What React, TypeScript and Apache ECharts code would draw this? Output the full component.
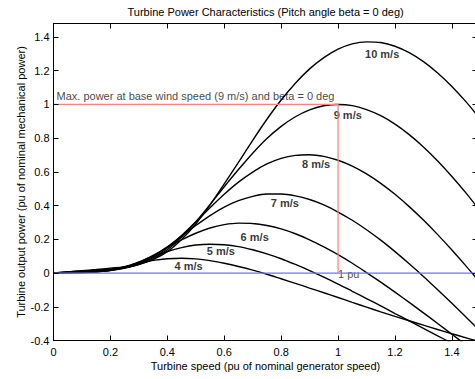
import { useEffect, useRef } from "react";
import * as echarts from "echarts";

// Turbine speed in pu of nominal generator speed
const SPEED = [
  0, 0.05, 0.1, 0.15, 0.2, 0.25, 0.3, 0.35, 0.4, 0.45, 0.5, 0.55, 0.6, 0.65, 0.7, 0.75,
  0.8, 0.85, 0.9, 0.95, 1.0, 1.05, 1.1, 1.15, 1.2, 1.25, 1.3, 1.35, 1.4, 1.45, 1.5,
];

// Turbine output power (pu of nominal mechanical power), one list per wind speed
const P_4 = [
  0, 0.001, 0.002, 0.007, 0.019, 0.038, 0.058, 0.075, 0.085, 0.088, 0.084, 0.074, 0.058, 0.039, 0.017, -0.007,
  -0.034, -0.061, -0.089, -0.117, -0.145, -0.174, -0.202, -0.23, -0.257, -0.283, -0.309, -0.335, -0.36, -0.384, -0.408,
];
const P_5 = [
  0, 0.002, 0.004, 0.007, 0.016, 0.036, 0.066, 0.098, 0.128, 0.151, 0.166, 0.171, 0.168, 0.157, 0.138, 0.114,
  0.085, 0.051, 0.015, -0.024, -0.065, -0.108, -0.151, -0.195, -0.24, -0.284, -0.328, -0.372, -0.416, -0.459, -0.501,
];
const P_6 = [
  0, 0.003, 0.005, 0.008, 0.015, 0.032, 0.063, 0.105, 0.152, 0.197, 0.236, 0.267, 0.287, 0.296, 0.294, 0.282,
  0.262, 0.233, 0.197, 0.155, 0.109, 0.058, 0.003, -0.054, -0.113, -0.174, -0.236, -0.299, -0.363, -0.427, -0.491,
];
const P_7 = [
  0, 0.004, 0.007, 0.011, 0.016, 0.029, 0.057, 0.1, 0.156, 0.219, 0.282, 0.341, 0.391, 0.429, 0.455, 0.469,
  0.469, 0.458, 0.436, 0.404, 0.362, 0.313, 0.257, 0.195, 0.127, 0.055, -0.02, -0.099, -0.179, -0.262, -0.346,
];
const P_8 = [
  0, 0.005, 0.009, 0.014, 0.019, 0.029, 0.052, 0.091, 0.149, 0.222, 0.303, 0.387, 0.467, 0.539, 0.599, 0.647,
  0.68, 0.698, 0.702, 0.692, 0.669, 0.634, 0.588, 0.532, 0.467, 0.394, 0.314, 0.228, 0.137, 0.041, -0.059,
];
const P_9 = [
  0, 0.006, 0.012, 0.017, 0.024, 0.032, 0.05, 0.084, 0.138, 0.212, 0.304, 0.406, 0.512, 0.614, 0.711, 0.798,
  0.87, 0.927, 0.968, 0.992, 1.0, 0.993, 0.969, 0.933, 0.883, 0.821, 0.748, 0.665, 0.573, 0.474, 0.367,
];
const P_10 = [
  0, 0.007, 0.014, 0.021, 0.029, 0.036, 0.053, 0.08, 0.127, 0.199, 0.291, 0.404, 0.529, 0.657, 0.787, 0.912,
  1.026, 1.126, 1.211, 1.278, 1.328, 1.359, 1.371, 1.367, 1.345, 1.307, 1.254, 1.187, 1.107, 1.015, 0.913,
];

const WIND_LABELS = ["4 m/s", "5 m/s", "6 m/s", "7 m/s", "8 m/s", "9 m/s", "10 m/s"];
const POWER_CURVES = [P_4, P_5, P_6, P_7, P_8, P_9, P_10];

// Tick positions on both axes
const X_TICKS = [0, 0.2, 0.4, 0.6, 0.8, 1.0, 1.2, 1.4];
const Y_TICKS = [-0.4, -0.2, 0, 0.2, 0.4, 0.6, 0.8, 1.0, 1.2, 1.4];

// Base operating point: base wind speed 9 m/s gives 1 pu power at 1 pu speed
const BASE_SPEED = 1;
const BASE_POWER = 1;

const TITLE = "Turbine Power Characteristics (Pitch angle beta = 0 deg)";
const X_NAME = "Turbine speed (pu of nominal generator speed)";
const Y_NAME = "Turbine output power (pu of nominal mechanical power)";
const MAX_NOTE = "Max. power at base wind speed (9 m/s) and beta = 0 deg";
const PU_NOTE = "1 pu";

const FONT = "'Liberation Sans', Arial, Helvetica, sans-serif";

// Where each wind-speed caption sits, in data coordinates
const CAPTION_AT: number[][] = [
  [0.475, 0.043],
  [0.588, 0.128],
  [0.707, 0.214],
  [0.813, 0.415],
  [0.923, 0.649],
  [1.034, 0.94],
  [1.155, 1.3],
];

const X_MIN = 0;
const X_MAX = 1.49;
const Y_MIN = -0.4;
const Y_MAX = 1.48;

const PLOT_W = 424;
const PLOT_H = 317;
const TICK_PX = 5;

function tickText(v: number): string {
  const step = Math.round(v * 5) / 5;
  if (Math.abs(v - step) > 1e-6) return "";
  return String(Math.round(v * 10) / 10);
}

// Frame and inward tick segments, in data coordinates
function frameSegments() {
  const dx = (TICK_PX * (X_MAX - X_MIN)) / PLOT_W;
  const dy = (TICK_PX * (Y_MAX - Y_MIN)) / PLOT_H;
  const segs: number[][][] = [
    [[X_MIN, Y_MIN], [X_MAX, Y_MIN]],
    [[X_MIN, Y_MAX], [X_MAX, Y_MAX]],
    [[X_MIN, Y_MIN], [X_MIN, Y_MAX]],
    [[X_MAX, Y_MIN], [X_MAX, Y_MAX]],
  ];
  X_TICKS.forEach((x) => {
    segs.push([[x, Y_MIN], [x, Y_MIN + dy]]);
    segs.push([[x, Y_MAX], [x, Y_MAX - dy]]);
  });
  Y_TICKS.forEach((y) => {
    segs.push([[X_MIN, y], [X_MIN + dx, y]]);
    segs.push([[X_MAX, y], [X_MAX - dx, y]]);
  });
  return segs.map((coords) => ({ coords }));
}

function buildOption() {
  const axisLine = () => ({ show: true, onZero: false, lineStyle: { color: "#000", width: 1 } });
  const labelStyle = () => ({ fontFamily: FONT, fontSize: 11, color: "#000" });

  const curveSeries = POWER_CURVES.map((p, k) => ({
    name: WIND_LABELS[k],
    type: "line",
    data: SPEED.map((s, i) => [s, p[i]]),
    smooth: 0.3,
    showSymbol: false,
    lineStyle: { color: "#000", width: 1.4 },
  }));

  const captions = CAPTION_AT.map((pos, k) => ({
    value: pos,
    label: {
      show: true,
      formatter: WIND_LABELS[k],
      position: "inside",
      align: "center",
      verticalAlign: "middle",
      fontFamily: FONT,
      fontSize: 11,
      fontWeight: "bold",
      color: "#000",
    },
  }));

  const notes = [
    {
      value: [X_MIN, BASE_POWER],
      label: {
        show: true,
        formatter: MAX_NOTE,
        position: "inside",
        align: "left",
        verticalAlign: "middle",
        offset: [3, -8],
        fontFamily: FONT,
        fontSize: 11,
        color: "#111",
      },
    },
    {
      value: [BASE_SPEED, 0],
      label: {
        show: true,
        formatter: PU_NOTE,
        position: "inside",
        align: "left",
        verticalAlign: "middle",
        offset: [0, 1],
        fontFamily: FONT,
        fontSize: 11,
        color: "#222",
      },
    },
  ];

  return {
    animation: false,
    grid: {
      left: 53.5,
      top: 23.5,
      width: PLOT_W,
      height: PLOT_H,
      outerBoundsMode: "none",
    },
    graphic: [
      {
        type: "text",
        left: 263.5 - 136,
        top: 6,
        style: { text: TITLE, fontFamily: FONT, fontSize: 11, fill: "#000" },
      },
    ],
    xAxis: [
      {
        type: "value",
        min: X_MIN,
        max: X_MAX,
        interval: 0.2,
        axisLine: axisLine(),
        axisTick: { show: false },
        splitLine: { show: false },
        axisLabel: { ...labelStyle(), margin: 6, formatter: tickText },
        name: X_NAME,
        nameLocation: "middle",
        nameGap: 20,
        nameMoveOverlap: false,
        nameTextStyle: labelStyle(),
      },
    ],
    yAxis: [
      {
        type: "value",
        min: Y_MIN,
        max: Y_MAX,
        interval: 0.2,
        axisLine: axisLine(),
        axisTick: { show: false },
        splitLine: { show: false },
        axisLabel: { ...labelStyle(), margin: 4, formatter: tickText },
        name: Y_NAME,
        nameLocation: "middle",
        nameGap: 27,
        nameRotate: 90,
        nameMoveOverlap: false,
        nameTextStyle: labelStyle(),
      },
    ],
    series: [
      ...curveSeries,
      {
        name: "zero power",
        type: "line",
        data: [
          [X_MIN, 0],
          [1.5, 0],
        ],
        showSymbol: false,
        lineStyle: { color: "#7272ff", width: 1.2 },
      },
      {
        name: "base point",
        type: "line",
        data: [
          [X_MIN, BASE_POWER],
          [BASE_SPEED, BASE_POWER],
          [BASE_SPEED, 0],
        ],
        showSymbol: false,
        lineStyle: { color: "#ff7e7e", width: 1.2 },
      },
      {
        name: "frame",
        type: "lines",
        coordinateSystem: "cartesian2d",
        data: frameSegments(),
        silent: true,
        z: 10,
        lineStyle: { color: "#000", width: 1, opacity: 1, curveness: 0 },
        effect: { show: false },
      },
      {
        name: "captions",
        type: "scatter",
        data: [...captions, ...notes],
        symbolSize: 1,
        itemStyle: { color: "rgba(0,0,0,0)" },
      },
    ],
  };
}

export default function App() {
  const ref = useRef<HTMLDivElement>(null);

  useEffect(() => {
    if (!ref.current) return;
    const chart = echarts.init(ref.current, undefined, { renderer: "svg" });
    chart.setOption(buildOption() as any);
    return () => chart.dispose();
  }, []);

  return (
    <div
      style={{
        position: "absolute",
        left: 0,
        top: 0,
        width: 475,
        height: 379,
        overflow: "hidden",
        background: "#fff",
      }}
    >
      <div ref={ref} style={{ width: 490, height: 379 }} />
    </div>
  );
}
